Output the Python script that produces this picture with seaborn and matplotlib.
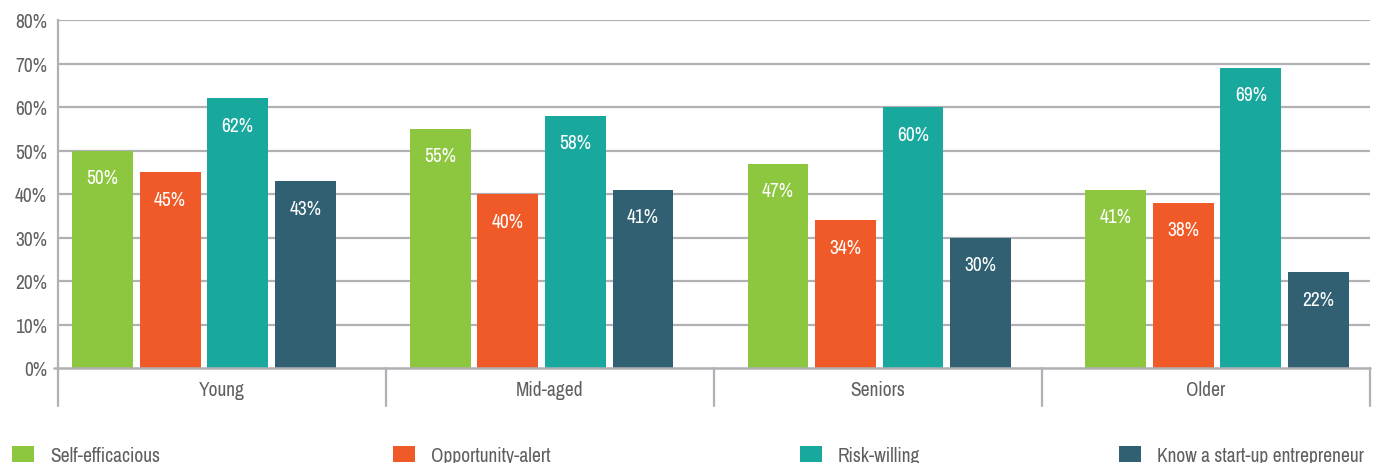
import matplotlib
matplotlib.use("Agg")
import matplotlib.pyplot as plt
from matplotlib import font_manager
from matplotlib.patches import Patch
from matplotlib.transforms import blended_transform_factory
import seaborn as sns
import pandas as pd

# ---- data ----
age_groups = ["Young", "Mid-aged", "Seniors", "Older"]
series_names = ["Self-efficacious", "Opportunity-alert", "Risk-willing",
                "Know a start-up entrepreneur"]
self_efficacious = [50, 55, 47, 41]
opportunity_alert = [45, 40, 34, 38]
risk_willing = [62, 58, 60, 69]
know_entrepreneur = [43, 41, 30, 22]
y_ticks = [0, 10, 20, 30, 40, 50, 60, 70, 80]
y_tick_labels = [f"{t}%" for t in y_ticks]

colors = ["#8DC63F", "#F05A28", "#19A89D", "#316073"]
grid_color = "#B0B0B5"
text_color = "#5F5F5F"

sns.set_theme(style="white")
installed = sorted({f.name for f in font_manager.fontManager.ttflist})
narrow = [n for n in installed if any(k in n for k in ("Narrow", "Condensed"))]
plt.rcParams["font.family"] = narrow[:1] + ["DejaVu Sans"]
plt.rcParams["font.stretch"] = "condensed"
plt.rcParams["font.weight"] = "light"
FS = 14

rows = []
for name, vals in zip(series_names, [self_efficacious, opportunity_alert,
                                     risk_willing, know_entrepreneur]):
    for grp, v in zip(age_groups, vals):
        rows.append({"group": grp, "series": name, "value": v})
df = pd.DataFrame(rows)

fig = plt.figure(figsize=(13.73, 4.64), dpi=100)
ax = fig.add_axes([58 / 1373, 1 - 369 / 464, (1370 - 58) / 1373, 348 / 464])

sns.barplot(data=df, x="group", y="value", hue="series", order=age_groups,
            hue_order=series_names, palette=colors, width=0.8, gap=0.1,
            saturation=1, legend=False, ax=ax, zorder=3, edgecolor="none")

ax.set_ylim(0, 80)
ax.set_xlim(-0.432, 3.453)
ax.set_yticks(y_ticks)
ax.set_yticklabels(y_tick_labels, fontsize=FS, color=text_color)
ax.tick_params(axis="y", length=0, pad=8)
ax.set_xticks([])
ax.set_xlabel("")
ax.set_ylabel("")

for t in y_ticks[1:]:
    ax.axhline(t, color=grid_color, lw=1.6, zorder=1)

for s in ["top", "right", "bottom"]:
    ax.spines[s].set_visible(False)
ax.spines["left"].set_color(grid_color)
ax.spines["left"].set_linewidth(1.6)

# baseline and category dividers
trans = blended_transform_factory(ax.transAxes, ax.transAxes)
ax.plot([-0.003, 1.0], [0, 0], transform=trans, color=grid_color, lw=1.8,
        clip_on=False, zorder=4)
for xf in [0, 0.25, 0.5, 0.75, 1.0]:
    ax.plot([xf, xf], [0, -0.109], transform=trans, color=grid_color, lw=1.6,
            clip_on=False)
for i, grp in enumerate(age_groups):
    ax.text(0.125 + 0.25 * i, -0.062, grp, transform=trans, ha="center",
            va="center", fontsize=FS, color=text_color)

# value labels inside bar tops
for container, vals in zip(ax.containers, [self_efficacious, opportunity_alert,
                                           risk_willing, know_entrepreneur]):
    for bar, v in zip(container, vals):
        ax.annotate(f"{v}%", (bar.get_x() + bar.get_width() / 2, bar.get_height()),
                    xytext=(0, -19.5), textcoords="offset points", ha="center",
                    va="center", color="white", fontsize=FS, zorder=5)

# legend: one entry per slot along the bottom edge
legend_x = [12, 393, 800, 1119]
for name, c, lx in zip(series_names, colors, legend_x):
    leg = fig.legend([Patch(facecolor=c, edgecolor="none")], [name],
                     loc="lower left", bbox_to_anchor=(lx / 1373, -0.004),
                     frameon=False, fontsize=FS, labelcolor=text_color,
                     handlelength=1.15, handleheight=0.85, handletextpad=0.8,
                     borderaxespad=0, borderpad=0)

fig.savefig("out.png", dpi=100)
